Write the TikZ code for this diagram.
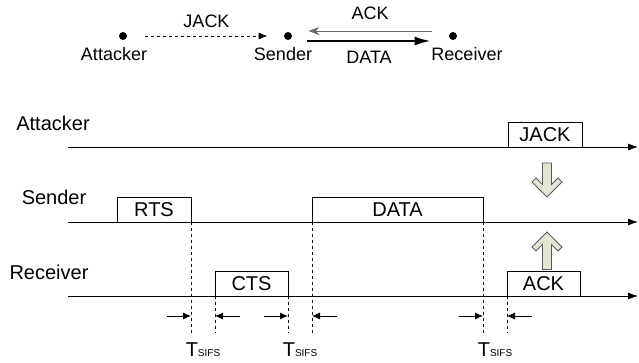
\documentclass[tikz,border=0pt]{standalone}
\usepackage{fontspec}
\setmainfont{Liberation Sans}
\usetikzlibrary{arrows.meta,positioning}

\tikzset{
  dot/.style={circle, fill, inner sep=0pt, minimum size=8pt},
  slot/.style={draw, anchor=south west, minimum height=25pt, inner sep=0pt, outer sep=0pt, font=\fontsize{20}{22}\selectfont},
  lane/.style={font=\fontsize{20}{22}\selectfont},
  blockarr/.style={fill={rgb,255:red,226;green,230;blue,212}, draw=black!65, line join=miter, line width=0.8pt}
}

\begin{document}
\begin{tikzpicture}[x=1pt, y=-1pt, font=\fontsize{18}{20}\selectfont, line width=0.8pt]
\useasboundingbox (0,0) rectangle (639,362);

% stations
\node[dot] (att) at (123,36) {};
\node[dot] (snd) at (288,36) {};
\node[dot] (rcv) at (453,36) {};
\node (attl) at (114,54) {Attacker};
\node (sndl) at (283,54) {Sender};
\node (rcvl) at (467,54) {Receiver};

% frames between stations
\draw[dashed, -{Latex[length=9pt, width=7pt]}] ([xshift=18pt]att.east) -- ([xshift=-16pt]snd.west)
  node[midway, above=5pt] {JACK};
\draw[black!60, -{Stealth[length=11pt, width=8pt]}] ([xshift=-17pt, yshift=5pt]rcv.west) -- ([xshift=16pt, yshift=5pt]snd.east)
  node[midway, above=8pt, black] {ACK};
\draw[line width=2pt, -{Latex[length=16pt, width=9pt]}] ([xshift=15pt, yshift=-5pt]snd.east) -- ([xshift=-18pt, yshift=-5pt]rcv.west)
  node[midway, below=6pt] {DATA};

% time lines
\coordinate (a0) at (68,147);  \coordinate (a1) at (638,147);
\coordinate (s0) at (68,222);  \coordinate (s1) at (638,222);
\coordinate (r0) at (68,296);  \coordinate (r1) at (638,296);
\node[lane] (lnA) at (53,123) {Attacker};
\node[lane] (lnS) at (54,197) {Sender};
\node[lane] (lnR) at (49,272) {Receiver};
\foreach \p in {a,s,r}
  \draw[-{Latex[length=10pt, width=7pt]}] (\p0) -- (\p1);

% frames on the air
\node[slot, minimum width=74pt] (rts) at (117,222) {RTS};
\node[slot, minimum width=171pt] (data) at (312,222) {DATA};
\node[slot, minimum width=74pt] (jack) at (508,147) {JACK};
\node[slot, minimum width=73pt] (cts) at (215,296) {CTS};
\node[slot, minimum width=73pt] (ack) at (507,296) {ACK};

% SIFS gaps
\coordinate (base) at (0,333);
\coordinate (tick) at (0,316);
\coordinate (lab) at (0,350);
\foreach \l/\r in {rts.south east/cts.south west, cts.south east/data.south west, data.south east/ack.south west}{
  \draw[dashed, line width=0.6pt] (\l) -- (\l |- base);
  \draw[dashed, line width=0.6pt] (\r) -- (\r |- base);
  \path (\l |- tick) coordinate (gl) (\r |- tick) coordinate (gr);
  \draw[-{Latex[length=8pt, width=7pt]}] ([xshift=-24pt]gl) -- (gl);
  \draw[-{Latex[length=8pt, width=7pt]}] ([xshift=25pt]gr) -- (gr);
  \path (\l |- lab) -- (\r |- lab) node[midway, font=\fontsize{20}{22}\selectfont] {T{\fontsize{10}{12}\selectfont SIFS}};
}

% jamming hits both ends
\draw[blockarr] (547,197) -- ++(-15,-15) -- ++(4,-4) -- ++(6.5,6.5) -- ++(0,-21.5) -- ++(9,0) -- ++(0,21.5) -- ++(6.5,-6.5) -- ++(4,4) -- cycle;
\draw[blockarr] (547,232) -- ++(-15,15) -- ++(4,4) -- ++(6.5,-6.5) -- ++(0,25) -- ++(9,0) -- ++(0,-25) -- ++(6.5,6.5) -- ++(4,-4) -- cycle;
\end{tikzpicture}
\end{document}
